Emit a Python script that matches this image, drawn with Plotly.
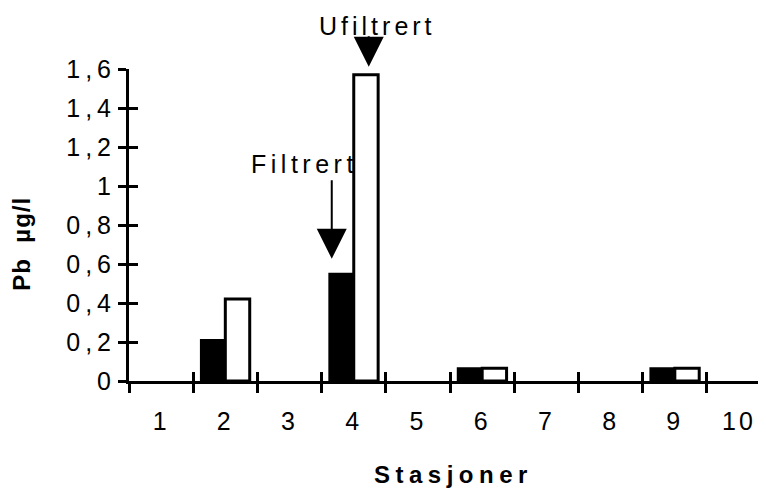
import plotly.graph_objects as go

stations = ["1", "2", "3", "4", "5", "6", "7", "8", "9", "10"]
filtrert = [None, 0.21, None, 0.55, None, 0.065, None, None, 0.065, None]
ufiltrert = [None, 0.42, None, 1.57, None, 0.065, None, None, 0.065, None]
y_ticks = [0, 0.2, 0.4, 0.6, 0.8, 1.0, 1.2, 1.4, 1.6]
y_ticktext = ["0", "0,2", "0,4", "0,6", "0,8", "1", "1,2", "1,4", "1,6"]

FONT = "Liberation Sans, Arial, sans-serif"
xr = [-0.5, 9.42]


def spaced(t, ls):
    return "<span style='letter-spacing:%spx'>%s</span>" % (ls, t)


fig = go.Figure()
fig.add_trace(go.Bar(x=stations, y=filtrert, name="Filtrert",
                     marker=dict(color="black", line=dict(color="black", width=2))))
fig.add_trace(go.Bar(x=stations, y=ufiltrert, name="Ufiltrert",
                     marker=dict(color="white", line=dict(color="black", width=3))))
# helper trace for the overlay axes (inside half of the crossing ticks)
fig.add_trace(go.Scatter(x=[None], y=[None], xaxis="x2", yaxis="y2",
                         showlegend=False, hoverinfo="skip"))

fig.update_layout(
    width=758, height=485,
    margin=dict(l=121, r=0, t=61, b=112),
    paper_bgcolor="white", plot_bgcolor="white",
    showlegend=False, barmode="group", bargap=0.24, bargroupgap=0,
    font=dict(family=FONT, color="black", size=25),
    xaxis=dict(type="category", range=xr, tickson="boundaries",
               tickvals=stations, ticktext=[spaced(s, 3) for s in stations],
               ticks="outside", ticklen=9, tickwidth=2.5, tickcolor="black",
               showline=True, linewidth=3, linecolor="black",
               showgrid=False, zeroline=False, ticklabelstandoff=16,
               tickfont=dict(size=25)),
    yaxis=dict(range=[0, 1.6], tickvals=y_ticks,
               ticktext=[spaced(t, 5) for t in y_ticktext],
               ticks="outside", ticklen=8, tickwidth=2.5, tickcolor="black",
               showline=True, linewidth=3, linecolor="black",
               showgrid=False, zeroline=False, ticklabelstandoff=-3,
               tickfont=dict(size=25)),
    xaxis2=dict(overlaying="x", anchor="y", side="bottom", range=xr,
                tickvals=[i - 0.5 for i in range(len(stations))],
                ticks="inside", ticklen=9, tickwidth=2.5, tickcolor="black",
                showticklabels=False, showline=False, showgrid=False, zeroline=False),
    yaxis2=dict(overlaying="y", anchor="x", side="left", range=[0, 1.6],
                tickvals=y_ticks, ticks="inside", ticklen=9, tickwidth=2.5,
                tickcolor="black", showticklabels=False, showline=False,
                showgrid=False, zeroline=False),
)

# axis titles
fig.add_annotation(xref="paper", yref="paper", x=-0.168, y=0.44, xanchor="center",
                   yanchor="middle", showarrow=False, textangle=-90,
                   text="<b>" + spaced("Pb  µg/l", 1) + "</b>",
                   font=dict(size=24, family=FONT))
fig.add_annotation(xref="paper", yref="paper", x=0.51, y=0, xanchor="center",
                   yanchor="middle", showarrow=False, yshift=-93,
                   text="<b>" + spaced("Stasjoner", 5.5) + "</b>",
                   font=dict(size=24, family=FONT))

# Ufiltrert label and arrow
fig.add_annotation(x=3, y=1.57, xref="x", yref="y", text="", showarrow=True,
                   arrowhead=2, arrowsize=3, arrowwidth=2, arrowcolor="black",
                   ax=0, ay=-32, xshift=15, yshift=8)
fig.add_annotation(x=3, y=1.57, xref="x", yref="y", showarrow=False,
                   text=spaced("Ufiltrert", 4),
                   xshift=24, yshift=49, font=dict(size=25, family=FONT))
# Filtrert label and arrow
fig.add_annotation(x=3, y=0.55, xref="x", yref="y", text="", showarrow=True,
                   arrowhead=2, arrowsize=3, arrowwidth=2, arrowcolor="black",
                   ax=0, ay=-80, xshift=-22, yshift=15)
fig.add_annotation(x=3, y=0.55, xref="x", yref="y", showarrow=False,
                   text=spaced("Filtrert", 4.5),
                   xshift=-49, yshift=110, font=dict(size=25, family=FONT))

fig.write_html("out.html")
